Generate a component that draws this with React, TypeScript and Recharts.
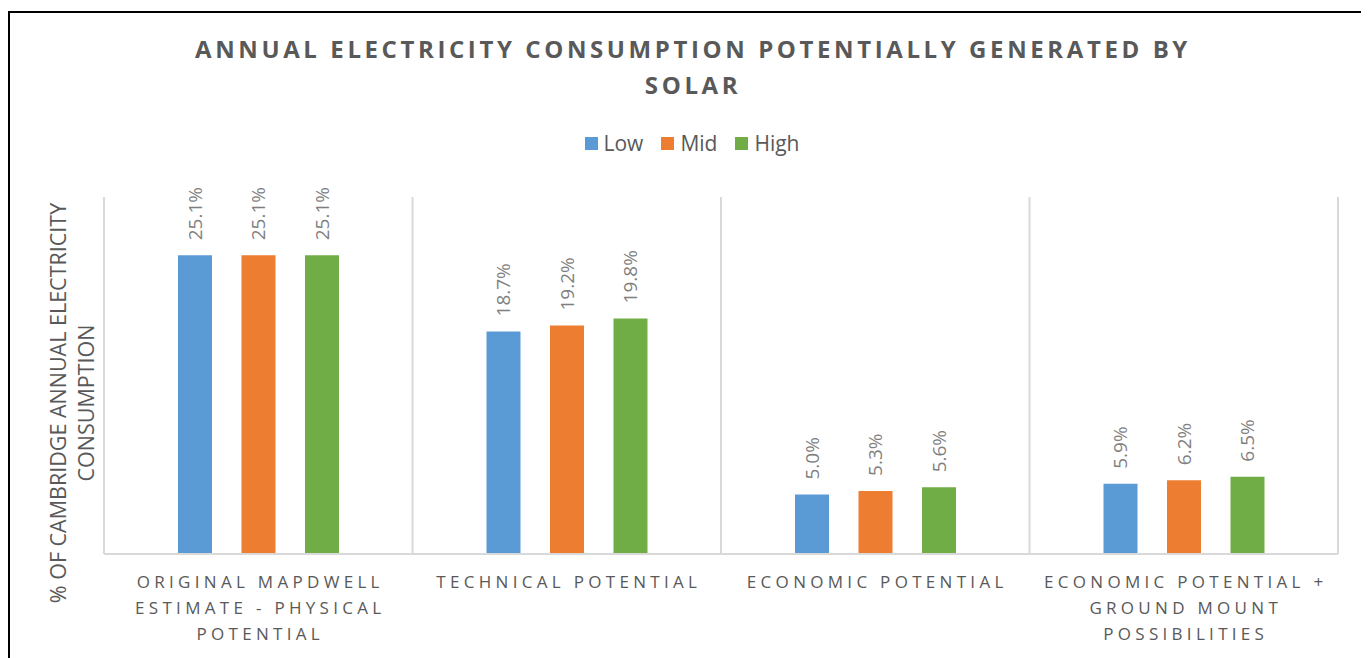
import React from "react";
import { BarChart, Bar, XAxis, YAxis, CartesianGrid, LabelList } from "recharts";

const categories = [
  "ORIGINAL MAPDWELL ESTIMATE - PHYSICAL POTENTIAL",
  "TECHNICAL POTENTIAL",
  "ECONOMIC POTENTIAL",
  "ECONOMIC POTENTIAL + GROUND MOUNT POSSIBILITIES",
];
const tickLines: string[][] = [
  ["ORIGINAL MAPDWELL", "ESTIMATE - PHYSICAL", "POTENTIAL"],
  ["TECHNICAL POTENTIAL"],
  ["ECONOMIC POTENTIAL"],
  ["ECONOMIC POTENTIAL +", "GROUND MOUNT", "POSSIBILITIES"],
];
const lowValues = [25.1, 18.7, 5.0, 5.9];
const midValues = [25.1, 19.2, 5.3, 6.2];
const highValues = [25.1, 19.8, 5.6, 6.5];
const seriesNames = ["Low", "Mid", "High"];
const seriesColors = ["#5B9BD5", "#ED7D31", "#70AD47"];
const titleLines = ["ANNUAL ELECTRICITY CONSUMPTION POTENTIALLY GENERATED BY", "SOLAR"];
const yLabelLines = ["% OF CAMBRIDGE ANNUAL ELECTRICITY", "CONSUMPTION"];

const data = categories.map((c, i) => ({
  name: c,
  Low: lowValues[i],
  Mid: midValues[i],
  High: highValues[i],
}));

const FONT = "'Open Sans', sans-serif";

const CustomTick = (props: any) => {
  const { x, y, index } = props;
  const lines = tickLines[index] || [];
  return (
    <g>
      {lines.map((l, i) => (
        <text
          key={i}
          x={x + 2}
          y={y + 26 + i * 26}
          textAnchor="middle"
          fontFamily={FONT}
          fontSize={17}
          letterSpacing={4.3}
          fill="#595959"
        >
          {l}
        </text>
      ))}
    </g>
  );
};

const DataLabel = (props: any) => {
  const { x, y, width, value } = props;
  const cx = x + width / 2 + 7;
  const cy = y - 15;
  return (
    <text
      x={cx}
      y={cy}
      transform={`rotate(-90, ${cx}, ${cy})`}
      textAnchor="start"
      fontFamily={FONT}
      fontSize={19}
      fill="#7F7F7F"
    >
      {`${Number(value).toFixed(1)}%`}
    </text>
  );
};

export default function App() {
  return (
    <div
      style={{
        position: "relative",
        marginTop: 3,
        width: 1354,
        height: 660,
        border: "2px solid #000",
        borderBottom: "none",
        background: "#fff",
        overflow: "hidden",
      }}
    >
      <div
        style={{
          position: "absolute",
          left: 0,
          top: 18,
          width: 1366,
          textAlign: "center",
          fontFamily: FONT,
          fontWeight: 700,
          fontSize: 24,
          letterSpacing: 3.6,
          lineHeight: "36px",
          color: "#595959",
        }}
      >
        {titleLines.map((l) => (
          <div key={l}>{l}</div>
        ))}
      </div>
      <div
        style={{
          position: "absolute",
          left: 5,
          top: 116,
          width: 1354,
          display: "flex",
          justifyContent: "center",
          fontFamily: FONT,
          fontSize: 21,
          color: "#595959",
        }}
      >
        {seriesNames.map((n, i) => (
          <div key={n} style={{ display: "flex", alignItems: "center", marginLeft: i === 0 ? 0 : 18 }}>
            <span style={{ display: "inline-block", width: 13, height: 13, background: seriesColors[i], marginRight: 6 }} />
            <span>{n}</span>
          </div>
        ))}
      </div>
      <div
        style={{
          position: "absolute",
          left: 62 - 200,
          top: 390 - 200,
          width: 400,
          height: 400,
          display: "flex",
          alignItems: "center",
          justifyContent: "center",
          transform: "rotate(-90deg)",
        }}
      >
        <div
          style={{
            textAlign: "center",
            fontFamily: FONT,
            fontSize: 21.5,
            lineHeight: "28px",
            color: "#595959",
            whiteSpace: "nowrap",
          }}
        >
          {yLabelLines.map((l) => (
            <div key={l}>{l}</div>
          ))}
        </div>
      </div>
      <div style={{ position: "absolute", left: 0, top: 0 }}>
        <BarChart
          width={1354}
          height={645}
          data={data}
          margin={{ top: 184, right: 26, bottom: 14, left: 94 }}
          barSize={34}
          barGap={29.5}
        >
          <CartesianGrid
            horizontal={false}
            stroke="#D9D9D9"
            strokeWidth={2}
            verticalCoordinatesGenerator={(p: any) => {
              const { offset } = p;
              const w = offset.width;
              return [0, 1, 2, 3, 4].map((i) => offset.left + (w * i) / 4);
            }}
          />
          <XAxis
            dataKey="name"
            height={90}
            interval={0}
            tickLine={false}
            axisLine={{ stroke: "#D9D9D9", strokeWidth: 2 }}
            tick={<CustomTick />}
          />
          <YAxis hide domain={[0, 30]} />
          {seriesNames.map((n, i) => (
            <Bar key={n} dataKey={n} fill={seriesColors[i]} isAnimationActive={false}>
              <LabelList dataKey={n} content={<DataLabel />} />
            </Bar>
          ))}
        </BarChart>
      </div>
    </div>
  );
}
